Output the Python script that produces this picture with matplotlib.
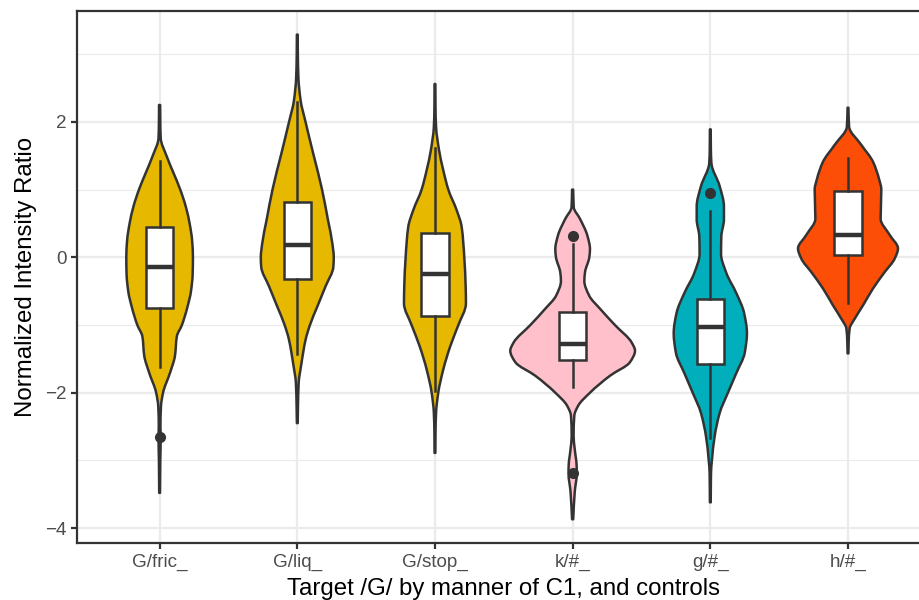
import numpy as np
import matplotlib
matplotlib.use('Agg')
import matplotlib.pyplot as plt
from matplotlib.path import Path
from matplotlib.patches import PathPatch
from matplotlib.ticker import MultipleLocator

plt.rcParams['font.family'] = ['Liberation Sans', 'DejaVu Sans']

groups = ['G/fric_', 'G/liq_', 'G/stop_', 'k/#_', 'g/#_', 'h/#_']
fills = ['#E7B800', '#E7B800', '#E7B800', '#FFC0CB', '#00AFBB', '#FC4E07']

# violin outlines: y level and half width (x units)
fric_y = [2.25, 2.0, 1.76, 1.5, 1.25, 1.0, 0.75, 0.5, 0.25, 0.0, -0.25, -0.5, -0.75,
          -1.0, -1.17, -1.45, -1.71, -2.0, -2.2, -2.5, -2.65, -3.0, -3.48]
fric_w = [0.004, 0.005, 0.008, 0.05, 0.10, 0.15, 0.19, 0.218, 0.236, 0.242, 0.240, 0.228, 0.20,
          0.162, 0.125, 0.112, 0.075, 0.025, 0.01, 0.006, 0.008, 0.005, 0.003]

liq_y = [3.29, 3.0, 2.66, 2.32, 2.0, 1.53, 1.0, 0.55, 0.2, 0.0, -0.14, -0.43, -0.73,
         -1.0, -1.22, -1.57, -1.86, -2.2, -2.45]
liq_w = [0.003, 0.004, 0.008, 0.024, 0.06, 0.116, 0.18, 0.223, 0.255, 0.265, 0.262, 0.205, 0.145,
         0.092, 0.06, 0.03, 0.01, 0.005, 0.003]

stop_y = [2.56, 2.2, 1.93, 1.58, 1.29, 1.0, 0.7, 0.45, 0.0, -0.43, -0.68, -1.0, -1.32,
          -1.66, -2.0, -2.3, -2.6, -2.89]
stop_w = [0.003, 0.004, 0.008, 0.03, 0.06, 0.097, 0.157, 0.194, 0.213, 0.223, 0.225, 0.17, 0.11,
          0.06, 0.024, 0.008, 0.004, 0.003]

k_y = [1.0, 0.74, 0.57, 0.32, 0.12, 0.0, -0.22, -0.35, -0.57, -0.76, -1.0, -1.26, -1.38,
       -1.55, -1.75, -2.0, -2.19, -2.34, -2.64, -2.83, -3.08, -3.19, -3.47, -3.87]
k_w = [0.004, 0.008, 0.053, 0.107, 0.126, 0.121, 0.09, 0.085, 0.121, 0.199, 0.307, 0.429, 0.453,
       0.416, 0.271, 0.126, 0.041, 0.012, 0.007, 0.015, 0.029, 0.03, 0.015, 0.004]

g_y = [1.89, 1.6, 1.39, 1.05, 0.75, 0.56, 0.31, 0.05, -0.23, -0.53, -0.82, -1.12, -1.41,
       -1.71, -2.0, -2.3, -2.65, -2.99, -3.19, -3.62]
g_w = [0.003, 0.004, 0.008, 0.068, 0.099, 0.099, 0.08, 0.078, 0.116, 0.189, 0.245, 0.266, 0.25,
       0.189, 0.128, 0.068, 0.031, 0.012, 0.005, 0.003]

h_y = [2.21, 1.93, 1.66, 1.41, 1.16, 1.0, 0.57, 0.33, 0.13, -0.02, -0.22, -0.46, -0.71,
       -0.91, -1.05, -1.25, -1.42]
h_w = [0.003, 0.008, 0.097, 0.182, 0.225, 0.242, 0.237, 0.303, 0.363, 0.339, 0.266, 0.182, 0.109,
       0.048, 0.012, 0.005, 0.003]

violin_y = [fric_y, liq_y, stop_y, k_y, g_y, h_y]
violin_w = [fric_w, liq_w, stop_w, k_w, g_w, h_w]

# boxplot summaries
q1 = [-0.744, -0.32, -0.86, -1.52, -1.58, 0.04]
med = [-0.138, 0.18, -0.24, -1.28, -1.03, 0.33]
q3 = [0.453, 0.81, 0.36, -0.81, -0.61, 0.98]
whislo = [-1.62, -1.43, -1.98, -1.91, -2.67, -0.68]
whishi = [1.42, 2.30, 1.62, 0.20, 0.69, 1.47]
fliers = [[-2.65], [], [], [0.31, -3.19], [0.95], []]

dark = '#333333'


def slopes(y, w):
    # monotone (Fritsch-Carlson) tangents so the bezier outline does not overshoot
    h = np.diff(y)
    d = np.diff(w) / h
    m = np.zeros_like(w)
    m[0], m[-1] = d[0], d[-1]
    for k in range(1, len(w) - 1):
        if d[k - 1] * d[k] > 0:
            a = 2 * h[k] + h[k - 1]
            b = h[k] + 2 * h[k - 1]
            m[k] = (a + b) / (a / d[k - 1] + b / d[k])
    return m


def violin_path(x0, yy, ww):
    y = np.array(yy)[::-1]
    w = np.array(ww)[::-1]
    m = slopes(y, w)
    verts = [(x0 + w[0], y[0])]
    codes = [Path.MOVETO]
    for k in range(len(y) - 1):
        h = y[k + 1] - y[k]
        verts += [(x0 + w[k] + m[k] * h / 3, y[k] + h / 3),
                  (x0 + w[k + 1] - m[k + 1] * h / 3, y[k + 1] - h / 3),
                  (x0 + w[k + 1], y[k + 1])]
        codes += [Path.CURVE4] * 3
    verts.append((x0 - w[-1], y[-1]))
    codes.append(Path.LINETO)
    for k in range(len(y) - 1, 0, -1):
        h = y[k] - y[k - 1]
        verts += [(x0 - (w[k] - m[k] * h / 3), y[k] - h / 3),
                  (x0 - (w[k - 1] + m[k - 1] * h / 3), y[k - 1] + h / 3),
                  (x0 - w[k - 1], y[k - 1])]
        codes += [Path.CURVE4] * 3
    verts.append(verts[0])
    codes.append(Path.CLOSEPOLY)
    return Path(verts, codes)


fig = plt.figure(figsize=(9.19, 6.0), dpi=100)
W, H = 919.0, 600.0
ax = fig.add_axes([77 / W, 57.3 / H, 853.6 / W, 532.0 / H])

pos = np.arange(1, len(groups) + 1)
for i in range(len(groups)):
    p = violin_path(pos[i], violin_y[i], violin_w[i])
    ax.add_patch(PathPatch(p, facecolor=fills[i], edgecolor=dark, linewidth=1.8,
                           joinstyle='round', zorder=2))

stats = []
for i in range(len(groups)):
    stats.append(dict(q1=q1[i], med=med[i], q3=q3[i], whislo=whislo[i],
                      whishi=whishi[i], fliers=fliers[i], label=groups[i]))

ax.bxp(stats, positions=pos, widths=0.2, patch_artist=True, showcaps=False,
       boxprops=dict(facecolor='white', edgecolor=dark, linewidth=1.8),
       whiskerprops=dict(color=dark, linewidth=1.8),
       medianprops=dict(color=dark, linewidth=3.2, solid_capstyle='butt'),
       flierprops=dict(marker='o', markerfacecolor=dark, markeredgecolor=dark,
                       markersize=7),
       zorder=3)

ax.set_xlim(0.4, 6.6)
ax.set_ylim(-4.216, 3.643)
ax.set_xticks(pos)
ax.set_xticklabels(groups)
ax.yaxis.set_major_locator(MultipleLocator(2))
ax.yaxis.set_minor_locator(MultipleLocator(1))
ax.set_yticks([-4, -2, 0, 2])

ax.set_axisbelow(True)
ax.grid(True, which='major', color='#EBEBEB', linewidth=1.6, zorder=0)
ax.grid(True, which='minor', axis='y', color='#EBEBEB', linewidth=0.8, zorder=0)

for s in ax.spines.values():
    s.set_color(dark)
    s.set_linewidth(1.6)

ax.tick_params(axis='both', which='major', length=4.3, width=1.6, color=dark,
               labelcolor='#4D4D4D', labelsize=13.6, pad=3.4)
ax.tick_params(axis='y', which='minor', length=0)

ax.set_xlabel('Target /G/ by manner of C1, and controls', fontsize=17.3, labelpad=5)
ax.set_ylabel('Normalized Intensity Ratio', fontsize=17.3)
ax.yaxis.set_label_coords(-0.047, 0.5)

fig.savefig('out.png', dpi=100)
